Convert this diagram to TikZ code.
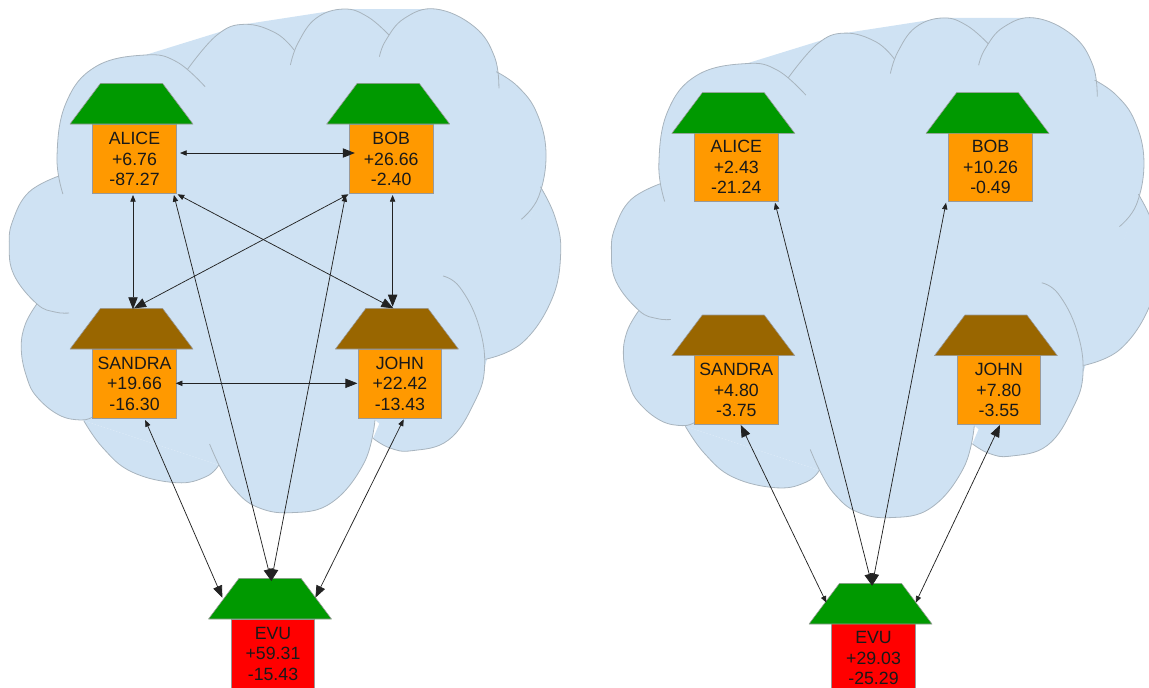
\documentclass[tikz,border=0pt]{standalone}
\usepackage{fontspec}
\setmainfont{Liberation Sans}
\usetikzlibrary{arrows.meta,calc}
\definecolor{cloudfill}{HTML}{CFE2F3}
\definecolor{cloudedge}{HTML}{A8B4BE}
\definecolor{boxedge}{HTML}{999999}
\definecolor{housebody}{HTML}{FF9900}
\definecolor{roofgreen}{HTML}{009900}
\definecolor{roofbrown}{HTML}{996600}
\definecolor{evured}{HTML}{FF0000}
\definecolor{wire}{HTML}{222222}
\tikzset{
  cloudarea/.style={fill=cloudfill,draw=none},
  cloudline/.style={draw=cloudedge,line width=.6pt,fill=none},
  housebox/.style={draw=boxedge,line width=.6pt,minimum width=62.8pt,minimum height=51.8pt,inner sep=0pt,
    align=center,font=\fontsize{13.3pt}{15.4pt}\selectfont,text=black!90},
  roofshape/.style={draw=boxedge,line width=.4pt,line join=round},
  link/.style={draw=wire,line width=.55pt},
  linkss/.style={link,{Triangle[length=5pt,width=4pt]}-{Triangle[length=9pt,width=7pt]}},
  linkls/.style={link,{Triangle[length=9pt,width=7pt]}-{Triangle[length=5pt,width=4pt]}},
  linkmm/.style={link,{Triangle[length=7pt,width=5pt]}-{Triangle[length=10pt,width=8pt]}}
}
\newcommand{\CloudLobes}[1]{%
  #1{(58.8,176) (29,192) (13,220) (9.2,245) (14,275) (37,304) (55,312) (69,313)}%
  #1{(36.8,304) (25,325) (21.3,350) (27,378) (37,397) (59,415) (81,420) (92.6,417)}%
  #1{(83.8,420.7) (103,448) (132,472) (176.5,482.7) (205.9,476.7) (218.8,465)}%
  #1{(209.6,444) (220.6,468) (235,490) (257,507) (290.4,512.7) (331,503) (364,463) (375,420)}%
  #1{(373,438.3) (390,448) (411.8,450.7) (448.5,440) (474,403) (484.6,367) (478,323) (459.6,287) (443,276)}%
  #1{(485.3,359.3) (522,343) (551.5,300) (560.7,253) (555,217) (540.4,186.7)}%
  #1{(521.3,219.3) (538.6,196.7) (546,153.3) (536.8,113) (518,86.7) (496.3,71.7)}%
  #1{(498.9,88.3) (494.5,56.7) (474.3,26.7) (435.7,9) (404.4,18.3) (386,40) (379.4,56.7)}%
  #1{(389,35) (367.6,16.7) (343.8,9) (316,18.3) (298,43) (290.4,65)}%
  #1{(294.1,50) (275.7,33) (244.5,24.3) (217,35) (187.5,69.3)}%
  #1{(205.1,86.7) (176.5,61.7) (145.2,55) (95.6,66.7) (66,103) (57,156.7) (62.9,194)}%
}
\newcommand{\LobeFill}[1]{\path[cloudarea] plot[smooth,tension=.7] coordinates {#1};}
\newcommand{\LobeLine}[1]{\path[cloudline] plot[smooth,tension=.7] coordinates {#1};}
\newcommand{\CloudShape}{%
  \path[cloudarea] (58.8,176)--(36.8,304)--(83.8,420.7)--(218.8,465)--(290.4,512.7)--(375,420)--(411.8,450.7)--(484.6,367)--(540.4,186.7)--(496.3,71.7)--(435.7,9)--(343.8,9)--(244.5,24.3)--(145.2,55)--cycle;
  \CloudLobes{\LobeFill}%
  \CloudLobes{\LobeLine}%
}
% name, centre x, centre y, roof top y, roof colour, body colour, text
\newcommand{\House}[7]{%
  \node[housebox,fill=#6] (#1) at (#2,#3) {#7};
  \path[roofshape,fill=#5] (#2-64.5,#4+40.7) -- (#2-34,#4) -- (#2+28,#4) -- (#2+58.5,#4+40.7) -- cycle;
}
\begin{document}
\begin{tikzpicture}[x=.75pt,y=-.75pt]
\useasboundingbox (0,0) rectangle (1149,687);
\clip (0,0) rectangle (1149,687);
\CloudShape
\begin{scope}[shift={(602.3,9)},x=.744pt,y=-.744pt]
\CloudShape
\end{scope}
% left diagram
\House{alice}{134.5}{159.3}{83.3}{roofgreen}{housebody}{ALICE\\+6.76\\-87.27}
\House{bob}{391.2}{159.3}{83.3}{roofgreen}{housebody}{BOB\\+26.66\\-2.40}
\House{sandra}{134.5}{383.5}{308.3}{roofbrown}{housebody}{SANDRA\\+19.66\\-16.30}
\House{john}{399.9}{383.5}{308.3}{roofbrown}{housebody}{JOHN\\+22.42\\-13.43}
\House{evu}{273}{653.8}{578.3}{roofgreen}{evured}{EVU\\+59.31\\-15.43}
% right diagram
\House{alicer}{736.3}{167}{92.7}{roofgreen}{housebody}{ALICE\\+2.43\\-21.24}
\House{bobr}{990.5}{167}{92.7}{roofgreen}{housebody}{BOB\\+10.26\\-0.49}
\House{sandrar}{736.3}{390}{315}{roofbrown}{housebody}{SANDRA\\+4.80\\-3.75}
\House{johnr}{998.9}{390}{315}{roofbrown}{housebody}{JOHN\\+7.80\\-3.55}
\House{evur}{873.5}{658}{583.3}{roofgreen}{evured}{EVU\\+29.03\\-25.29}
% left connectors
\draw[linkss] ($(alice)+(45.5,-6.3)$) -- ($(bob)+(-36.4,-6.3)$);
\draw[linkss] ($(alice)+(-1.5,35.7)$) -- ($(sandra)+(-1.5,-74.2)$);
\draw[linkss] ($(alice)+(43.1,35)$) -- ($(john)+(-6.5,-75.2)$);
\draw[linkss] ($(bob)+(-42.7,35)$) -- ($(sandra)+(-.5,-75.2)$);
\draw[linkss] ($(bob)+(1.4,35.7)$) -- ($(john)+(-7.3,-76.8)$);
\draw[linkss] ($(alice)+(39.4,35.7)$) -- ($(evu)+(-1.7,-72.8)$);
\draw[linkss] ($(bob)+(-45.6,35.7)$) -- ($(evu)+(-1.7,-72.8)$);
\draw[linkss] ($(sandra)+(41.2,-.2)$) -- ($(john)+(-42.5,-.2)$);
\draw[linkss] ($(sandra)+(10.7,36.5)$) -- ($(evu)+(-50.6,-56.1)$);
\draw[linkss] ($(john)+(3.8,35.8)$) -- ($(evu)+(42.4,-56.1)$);
% right connectors
\draw[linkss] ($(alicer)+(38.7,35.7)$) -- ($(evur)+(-1.4,-72.3)$);
\draw[linkss] ($(bobr)+(-44.5,35.7)$) -- ($(evur)+(-1.4,-72.3)$);
\draw[linkls] ($(sandrar)+(4.4,35)$) -- ($(evur)+(-47.1,-55.3)$);
\draw[linkls] ($(johnr)+(1.1,35)$) -- ($(evur)+(42.2,-55.3)$);
\end{tikzpicture}
\end{document}
